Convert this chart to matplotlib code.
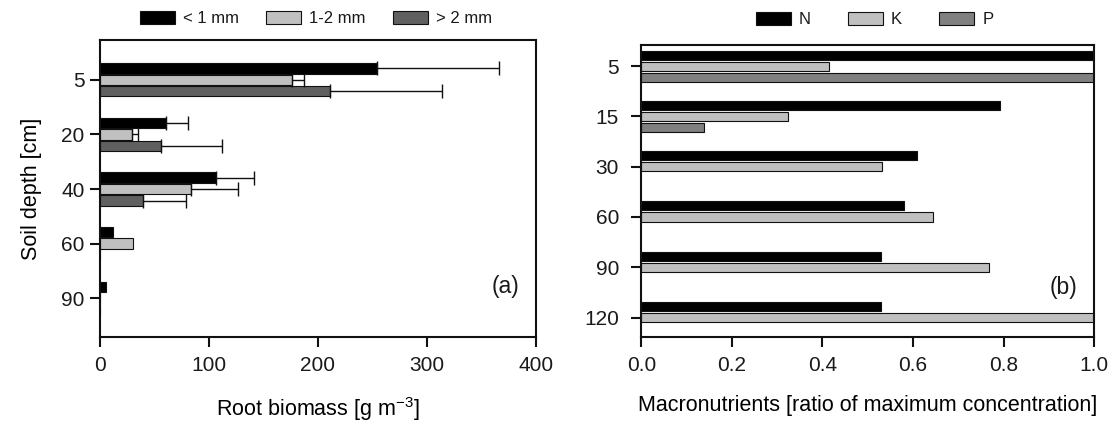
import matplotlib
matplotlib.use("Agg")
import matplotlib.pyplot as plt
from matplotlib.patches import Patch
import numpy as np

plt.rcParams['font.family'] = ['Liberation Sans', 'DejaVu Sans']
plt.rcParams['mathtext.fontset'] = 'custom'
plt.rcParams['mathtext.rm'] = 'Liberation Sans'
plt.rcParams['text.color'] = '#1a1a1a'

# panel (a): root biomass by diameter class
depths_a = ["5", "20", "40", "60", "90"]
fine = [254, 61, 107, 12, 5.6]
fine_err = [112, 19.6, 34.6, 0, 0]
medium = [176.5, 30, 84, 30.5, 0]
medium_err = [11, 5.4, 42.5, 0, 0]
coarse = [211.5, 56.4, 39.4, 0, 0]
coarse_err = [102.5, 55.3, 40, 0, 0]
labels_a = ["< 1 mm", "1-2 mm", "> 2 mm"]

# panel (b): macronutrients relative to max
depths_b = ["5", "15", "30", "60", "90", "120"]
nitrogen = [1.0, 0.792, 0.608, 0.58, 0.529, 0.529]
potassium = [0.414, 0.324, 0.531, 0.643, 0.767, 1.0]
phosphorus = [1.0, 0.138, 0, 0, 0, 0]
labels_b = ["N", "K", "P"]

colors_a = ["#000000", "#c0c0c0", "#606060"]
colors_b = ["#000000", "#c0c0c0", "#808080"]

fig = plt.figure(figsize=(11.16, 4.24), dpi=100)
ax1 = fig.add_axes([0.0893, 0.2052, 0.3910, 0.7005])
ax2 = fig.add_axes([0.5746, 0.2059, 0.4059, 0.6880])


def style_axes(ax, ypad):
    for sp in ax.spines.values():
        sp.set_linewidth(1.5)
        sp.set_color('#111111')
    ax.tick_params(axis='both', which='major', direction='out', length=7,
                   width=1.5, labelsize=15, colors='#111111', labelcolor='#1a1a1a')
    ax.tick_params(axis='x', pad=7)
    ax.tick_params(axis='y', pad=ypad)


# --- (a) ---
y = np.arange(len(depths_a))
offsets = [-0.21, 0, 0.21]
h = 0.19
for vals, errs, off, col in zip([fine, medium, coarse],
                                [fine_err, medium_err, coarse_err],
                                offsets, colors_a):
    vals = np.array(vals, dtype=float)
    errs = np.array(errs, dtype=float)
    ax1.barh(y + off, vals, height=h, color=col, edgecolor='#111111', linewidth=0.8, zorder=2)
    m = errs > 0
    ax1.errorbar(vals[m], y[m] + off, xerr=[np.zeros(m.sum()), errs[m]], fmt='none',
                 ecolor='#111111', elinewidth=1.0, capsize=5, capthick=1.0, zorder=3)

ax1.set_yticks(y)
ax1.set_yticklabels(depths_a)
ax1.set_ylim(4.71, -0.73)
ax1.set_xlim(0, 400)
ax1.set_xticks([0, 100, 200, 300, 400])
style_axes(ax1, 4)
ax1.set_ylabel("Soil depth [cm]", fontsize=15.5, labelpad=14)
ax1.set_xlabel("Root biomass [g m$^{-3}$]", fontsize=15.5, labelpad=14)
ax1.text(0.93, 0.17, "(a)", transform=ax1.transAxes, ha='center', va='center', fontsize=16.5)

handles = [Patch(facecolor=c, edgecolor='#111111', linewidth=0.8) for c in colors_a]
ax1.legend(handles, labels_a, loc='center', bbox_to_anchor=(0.496, 1.071), ncol=3,
           frameon=False, fontsize=12, handlelength=2.1, handleheight=0.8,
           handletextpad=0.5, columnspacing=1.6, borderaxespad=0)

# --- (b) ---
y = np.arange(len(depths_b))
offsets = [-0.22, 0, 0.22]
h = 0.18
for vals, off, col in zip([nitrogen, potassium, phosphorus], offsets, colors_b):
    vals = np.array(vals, dtype=float)
    m = vals > 0
    ax2.barh(y[m] + off, vals[m], height=h, color=col, edgecolor='#111111', linewidth=0.8, zorder=2)

ax2.set_yticks(y)
ax2.set_yticklabels(depths_b)
ax2.set_ylim(5.38, -0.42)
ax2.set_xlim(0, 1.0)
ax2.set_xticks([0.0, 0.2, 0.4, 0.6, 0.8, 1.0])
ax2.set_xticklabels(["0.0", "0.2", "0.4", "0.6", "0.8", "1.0"])
style_axes(ax2, 9)
ax2.set_xlabel("Macronutrients [ratio of maximum concentration]", fontsize=15.5, labelpad=14)
ax2.text(0.933, 0.17, "(b)", transform=ax2.transAxes, ha='center', va='center', fontsize=16.5)

handles = [Patch(facecolor=c, edgecolor='#111111', linewidth=0.8) for c in colors_b]
ax2.legend(handles, labels_b, loc='center', bbox_to_anchor=(0.515, 1.087), ncol=3,
           frameon=False, fontsize=12, handlelength=2.1, handleheight=0.8,
           handletextpad=0.5, columnspacing=2.2, borderaxespad=0)

fig.savefig("out.png", dpi=100)
